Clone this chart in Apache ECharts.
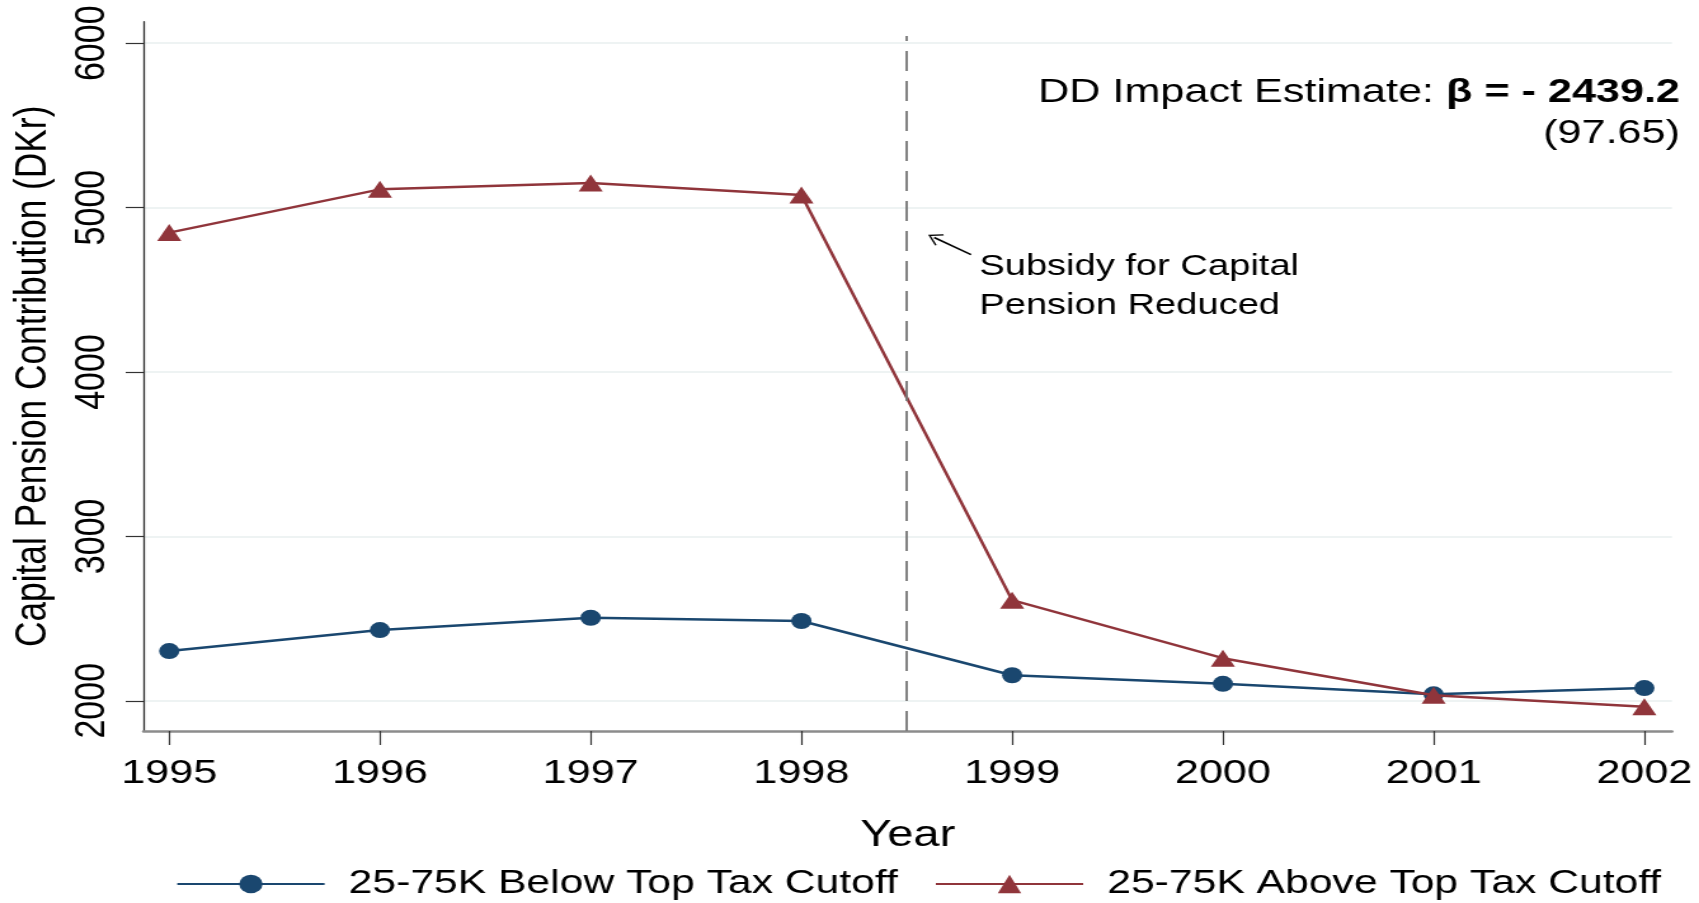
<!DOCTYPE html>
<html>
<head>
<meta charset="utf-8">
<script src="https://cdn.jsdelivr.net/npm/echarts@6/dist/echarts.min.js"></script>
<style>
  html, body { margin: 0; padding: 0; background: #fff; overflow: hidden; }
  /* The figure is laid out at its native width and widened horizontally. */
  #chart { width: 1338px; height: 903px; transform: scaleX(1.26981); transform-origin: 0 0; }
</style>
</head>
<body>
<div id="chart"></div>
<script>
// ---- data ----
const years = [1995, 1996, 1997, 1998, 1999, 2000, 2001, 2002];
const belowCutoff = [2302, 2430, 2505, 2485, 2155, 2103, 2039, 2077];
const aboveCutoff = [4848, 5111, 5150, 5077, 2612, 2259, 2033, 1964];
const yTicks = [2000, 3000, 4000, 5000, 6000];
const seriesNames = ['25-75K Below Top Tax Cutoff', '25-75K Above Top Tax Cutoff'];

// axis extents
const X_MIN = 1994.878, X_MAX = 2002.131;
const Y_MIN = 1816, Y_MAX = 6131;

// reform line and its note
const reformYear = 1998.5;
const reformLineTop = 6044;
const arrowFrom = [1998.805, 4714];
const arrowTo = [1998.630, 4818];

const FONT = "'Liberation Sans', Arial, Helvetica, sans-serif";
const NAVY = '#1a476f';
const MAROON = '#90353b';

const chart = echarts.init(document.getElementById('chart'));

const option = {
  animation: false,
  backgroundColor: '#ffffff',
  textStyle: { fontFamily: FONT },
  grid: {
    left: 113, right: 21.3, top: 21.7, bottom: 172,
    containLabel: false, outerBoundsMode: 'none'
  },
  legend: {
    data: seriesNames,
    left: 138.6,
    top: 867,
    padding: 0,
    itemWidth: 116,
    itemHeight: 23,
    itemGap: 29,
    textStyle: { fontSize: 33.6, color: '#000', fontFamily: FONT, padding: [0, 0, 0, 14] }
  },
  xAxis: {
    type: 'value',
    min: X_MIN,
    max: X_MAX,
    name: 'Year',
    nameLocation: 'middle',
    nameGap: 86,
    nameTextStyle: { fontSize: 37, color: '#000', fontFamily: FONT },
    axisLine: { show: true, onZero: false, lineStyle: { color: '#8c8c8c', width: 2.5 } },
    axisTick: { show: true, length: 14, customValues: years, lineStyle: { color: '#333', width: 1.2 } },
    axisLabel: {
      customValues: years,
      formatter: v => String(v),
      fontSize: 34, color: '#000', fontFamily: FONT, margin: 26
    },
    splitLine: { show: false }
  },
  yAxis: {
    type: 'value',
    min: Y_MIN,
    max: Y_MAX,
    name: 'Capital Pension Contribution (DKr)',
    nameLocation: 'middle',
    nameGap: 69,
    nameTextStyle: { fontSize: 35.3, color: '#000', fontFamily: FONT },
    axisLine: { show: true, onZero: false, lineStyle: { color: '#333', width: 1.3 } },
    axisTick: { show: true, length: 14, customValues: yTicks, lineStyle: { color: '#333', width: 1.2 } },
    axisLabel: {
      customValues: yTicks,
      rotate: 90,
      formatter: v => String(v),
      fontSize: 34, color: '#000', fontFamily: FONT, margin: 23
    },
    splitLine: { show: true, lineStyle: { color: '#e8efef', width: 1.5 } }
  },
  series: [
    {
      name: seriesNames[0],
      type: 'line',
      data: years.map((y, i) => [y, belowCutoff[i]]),
      symbol: 'circle',
      symbolSize: 16,
      lineStyle: { color: NAVY, width: 2.5 },
      itemStyle: { color: NAVY },
      z: 3,
      markLine: {
        silent: true,
        symbol: ['none', 'none'],
        label: { show: false },
        lineStyle: { color: '#777', width: 1.8, type: [20, 10] },
        data: [[{ coord: [reformYear, Y_MIN] }, { coord: [reformYear, reformLineTop] }]]
      }
    },
    {
      name: seriesNames[1],
      type: 'line',
      data: years.map((y, i) => [y, aboveCutoff[i]]),
      symbol: 'triangle',
      symbolSize: [19, 17],
      lineStyle: { color: MAROON, width: 2.5 },
      itemStyle: { color: MAROON },
      z: 4,
      markLine: {
        silent: true,
        symbol: ['none', 'path://M10,0 L20,14 L18.4,15.2 L10,3.4 L1.6,15.2 L0,14 Z'],
        symbolSize: [13, 11],
        label: { show: false },
        lineStyle: { color: '#000', width: 1.6, type: 'solid' },
        data: [[{ coord: arrowFrom }, { coord: arrowTo }]]
      }
    }
  ],
  graphic: [
    {
      type: 'text',
      x: 1323, y: 93,
      style: {
        text: '{n|DD Impact Estimate: }{b|β = - 2439.2}',
        align: 'right', verticalAlign: 'middle',
        rich: {
          n: { fontSize: 34, fontFamily: FONT, fill: '#000' },
          b: { fontSize: 34, fontFamily: FONT, fontWeight: 'bold', fill: '#000' }
        }
      }
    },
    {
      type: 'text',
      x: 1323, y: 134,
      style: {
        text: '(97.65)', align: 'right', verticalAlign: 'middle',
        fontSize: 34, fontFamily: FONT, fill: '#000'
      }
    },
    {
      type: 'text',
      x: 771.2, y: 286,
      style: {
        text: 'Subsidy for Capital\nPension Reduced', align: 'left', verticalAlign: 'middle',
        fontSize: 30, lineHeight: 38.5, fontFamily: FONT, fill: '#000'
      }
    }
  ]
};

chart.setOption(option);
</script>
</body>
</html>
